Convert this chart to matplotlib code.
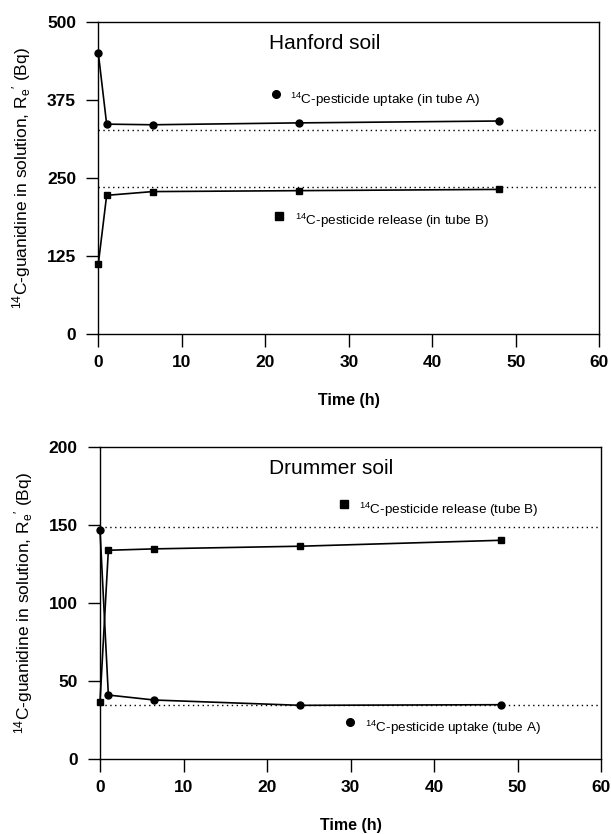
import matplotlib
matplotlib.use("Agg")
import matplotlib.pyplot as plt

plt.rcParams['font.family'] = ['Liberation Sans', 'DejaVu Sans']
plt.rcParams['mathtext.fontset'] = 'custom'
plt.rcParams['mathtext.rm'] = 'Liberation Sans'
plt.rcParams['mathtext.it'] = 'Liberation Sans:italic'
plt.rcParams['mathtext.bf'] = 'Liberation Sans:bold'

# ---- data ----
time_h = [0, 1, 6.5, 24, 48]

hanford_uptake = [450, 336, 335, 338, 341]
hanford_release = [112, 222, 228, 229.5, 231.5]
hanford_uptake_eq = 326.5
hanford_release_eq = 236

drummer_release = [36.7, 133.8, 134.7, 136.4, 140.2]
drummer_uptake = [146.6, 41, 37.8, 34.4, 34.8]
drummer_release_eq = 148.8
drummer_uptake_eq = 34.4

x_ticks = [0, 10, 20, 30, 40, 50, 60]
hanford_yticks = [0, 125, 250, 375, 500]
drummer_yticks = [0, 50, 100, 150, 200]

ylabel = r"$^{14}$C-guanidine in solution, R$_{\mathrm{e}}$$^{\prime}$ (Bq)"

fig = plt.figure(figsize=(6.11, 8.34), dpi=100)
ax1 = fig.add_axes([98.3/611, 1-334/834, 501/611, 312.3/834])
ax2 = fig.add_axes([100/611, 1-759/834, 501/611, 312/834])


def style(ax, yticks, ymax):
    ax.set_xlim(0, 60)
    ax.set_ylim(0, ymax)
    ax.set_xticks(x_ticks)
    ax.set_yticks(yticks)
    ax.tick_params(direction='out', length=9, width=1.0, labelsize=12.5, pad=6)
    ax.tick_params(axis='y', pad=7)
    for lab in ax.get_xticklabels() + ax.get_yticklabels():
        lab.set_fontweight('bold')
    for s in ax.spines.values():
        s.set_linewidth(1.0)
    ax.set_xlabel("Time (h)", fontsize=11.5, fontweight='bold', labelpad=17)
    ax.set_ylabel(ylabel, fontsize=12.5, labelpad=10)


lw = 1.2
ms = 5

# Hanford
ax1.plot(time_h, hanford_uptake, color='black', lw=lw, marker='o', ms=ms, clip_on=False, zorder=3)
ax1.plot(time_h, hanford_release, color='black', lw=lw, marker='s', ms=ms, clip_on=False, zorder=3)
ax1.axhline(hanford_uptake_eq, color='black', lw=1.0, ls=(0, (1, 2.5)))
ax1.axhline(hanford_release_eq, color='black', lw=1.0, ls=(0, (1, 2.5)))
ax1.plot([21.3], [384], color='black', marker='o', ms=ms + 0.5, ls='none')
ax1.text(23.0, 375, r"$^{14}$C-pesticide uptake (in tube A)", fontsize=9.7, va='center', ha='left')
ax1.plot([21.7], [189], color='black', marker='s', ms=ms + 0.5, ls='none')
ax1.text(23.5, 181, r"$^{14}$C-pesticide release (in tube B)", fontsize=9.7, va='center', ha='left')
ax1.text(20.4, 465, "Hanford soil", fontsize=15, va='center', ha='left')
style(ax1, hanford_yticks, 500)

# Drummer
ax2.plot(time_h, drummer_release, color='black', lw=lw, marker='s', ms=ms, clip_on=False, zorder=3)
ax2.plot(time_h, drummer_uptake, color='black', lw=lw, marker='o', ms=ms, clip_on=False, zorder=3)
ax2.axhline(drummer_release_eq, color='black', lw=1.0, ls=(0, (1, 2.5)))
ax2.axhline(drummer_uptake_eq, color='black', lw=1.0, ls=(0, (1, 2.5)))
ax2.plot([29.2], [163.2], color='black', marker='s', ms=ms + 0.5, ls='none')
ax2.text(31.0, 159.5, r"$^{14}$C-pesticide release (tube B)", fontsize=9.7, va='center', ha='left')
ax2.plot([29.9], [23.9], color='black', marker='o', ms=ms + 0.5, ls='none')
ax2.text(31.7, 19.7, r"$^{14}$C-pesticide uptake (tube A)", fontsize=9.7, va='center', ha='left')
ax2.text(20.2, 186.5, "Drummer soil", fontsize=15, va='center', ha='left')
style(ax2, drummer_yticks, 200)

fig.savefig("out.png", dpi=100)
